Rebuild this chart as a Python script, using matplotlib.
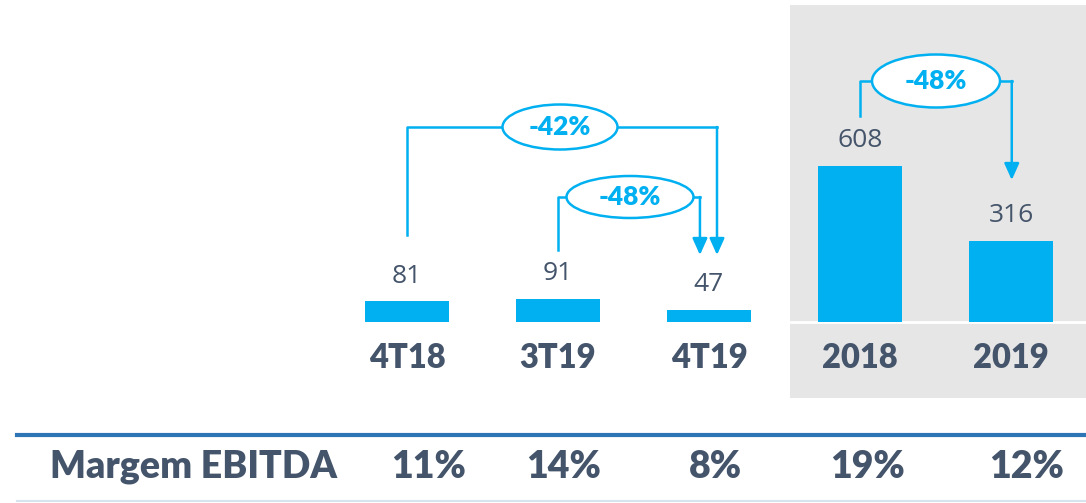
import matplotlib.pyplot as plt
from matplotlib.patches import Ellipse, Rectangle

# dados
periodos = ["4T18", "3T19", "4T19", "2018", "2019"]
ebitda = [81, 91, 47, 608, 316]
margem = ["11%", "14%", "8%", "19%", "12%"]
variacoes = ["-42%", "-48%", "-48%"]

azul = "#00B0F0"
texto = "#44546A"
cinza = "#E7E6E6"

# escala: 1 px = 1/0.2566 unidades, base das barras a 322 px do topo
PX = 0.2566


def py(p):
    return (322 - p) / PX


def px(p):
    return (p - 407) / 151


fig = plt.figure(figsize=(10.86, 5.03), dpi=100)
ax = fig.add_axes([0, 0, 1, 1])
ax.set_xlim(px(0), px(1086))
ax.set_ylim(py(503), py(0))
ax.axis("off")

# fundo cinza dos anos
ax.add_patch(Rectangle((px(790), py(398)), px(1086) - px(790), py(5) - py(398),
                       color=cinza, zorder=0, lw=0))
ax.plot([px(790), px(1086)], [0, 0], color="white", lw=2, zorder=1)

x = list(range(len(periodos)))
ax.bar(x, ebitda, width=0.556, color=azul, zorder=2)

for i, v in enumerate(ebitda):
    ax.annotate(str(v), (i, v), xytext=(0, 9), textcoords="offset points",
                ha="center", va="bottom", fontsize=19, color=texto,
                family="Open Sans")
    ax.text(i, py(358), periodos[i], ha="center", va="center", fontsize=23.5,
            fontweight="heavy", color=texto, family="Lato")

# colchetes de variacao
def colchete(x0, x1, y0, yl, yt, cx, w, h, label):
    ax.plot([x0, x0, cx - w / 2], [yl, y0, y0], color=azul, lw=1.8, zorder=3)
    ax.plot([cx + w / 2, x1], [y0, y0], color=azul, lw=1.8, zorder=3)
    ax.annotate("", xy=(x1, yt), xytext=(x1, y0),
                arrowprops=dict(arrowstyle="-|>,head_width=0.45,head_length=1.0",
                                color=azul, lw=1.8, shrinkA=0, shrinkB=0), zorder=3)
    ax.add_patch(Ellipse((cx, y0), w, h, facecolor="white", edgecolor=azul,
                         lw=1.8, zorder=4))
    ax.text(cx, y0, label, ha="center", va="center", fontsize=19,
            fontweight="heavy", color=azul, family="Lato", zorder=5)


colchete(0, 2.053, py(127), py(235), py(255), px(560), 115 / 151, 45 / PX, variacoes[0])
colchete(1, 1.94, py(197), py(250), py(255), px(630), 127 / 151, 42 / PX, variacoes[1])
colchete(3, 4.005, py(81), py(116), py(180), px(936), 128 / 151, 53 / PX, variacoes[2])

# tabela margem
ax.plot([px(17), px(1086)], [py(435), py(435)], color="#2E75B6", lw=3)
ax.plot([px(17), px(1086)], [py(501), py(501)], color="#D6E4F0", lw=1.5)
ax.text(px(50), py(467), "Margem EBITDA", ha="left", va="center", fontsize=27,
        fontweight="heavy", color=texto, family="Lato")
desloc = [0.146, 0.04, 0.04, 0.05, 0.106]
for i, m in enumerate(margem):
    ax.text(i + desloc[i], py(467), m, ha="center", va="center", fontsize=27,
            fontweight="heavy", color=texto, family="Lato")

fig.savefig("out.png", dpi=100)
